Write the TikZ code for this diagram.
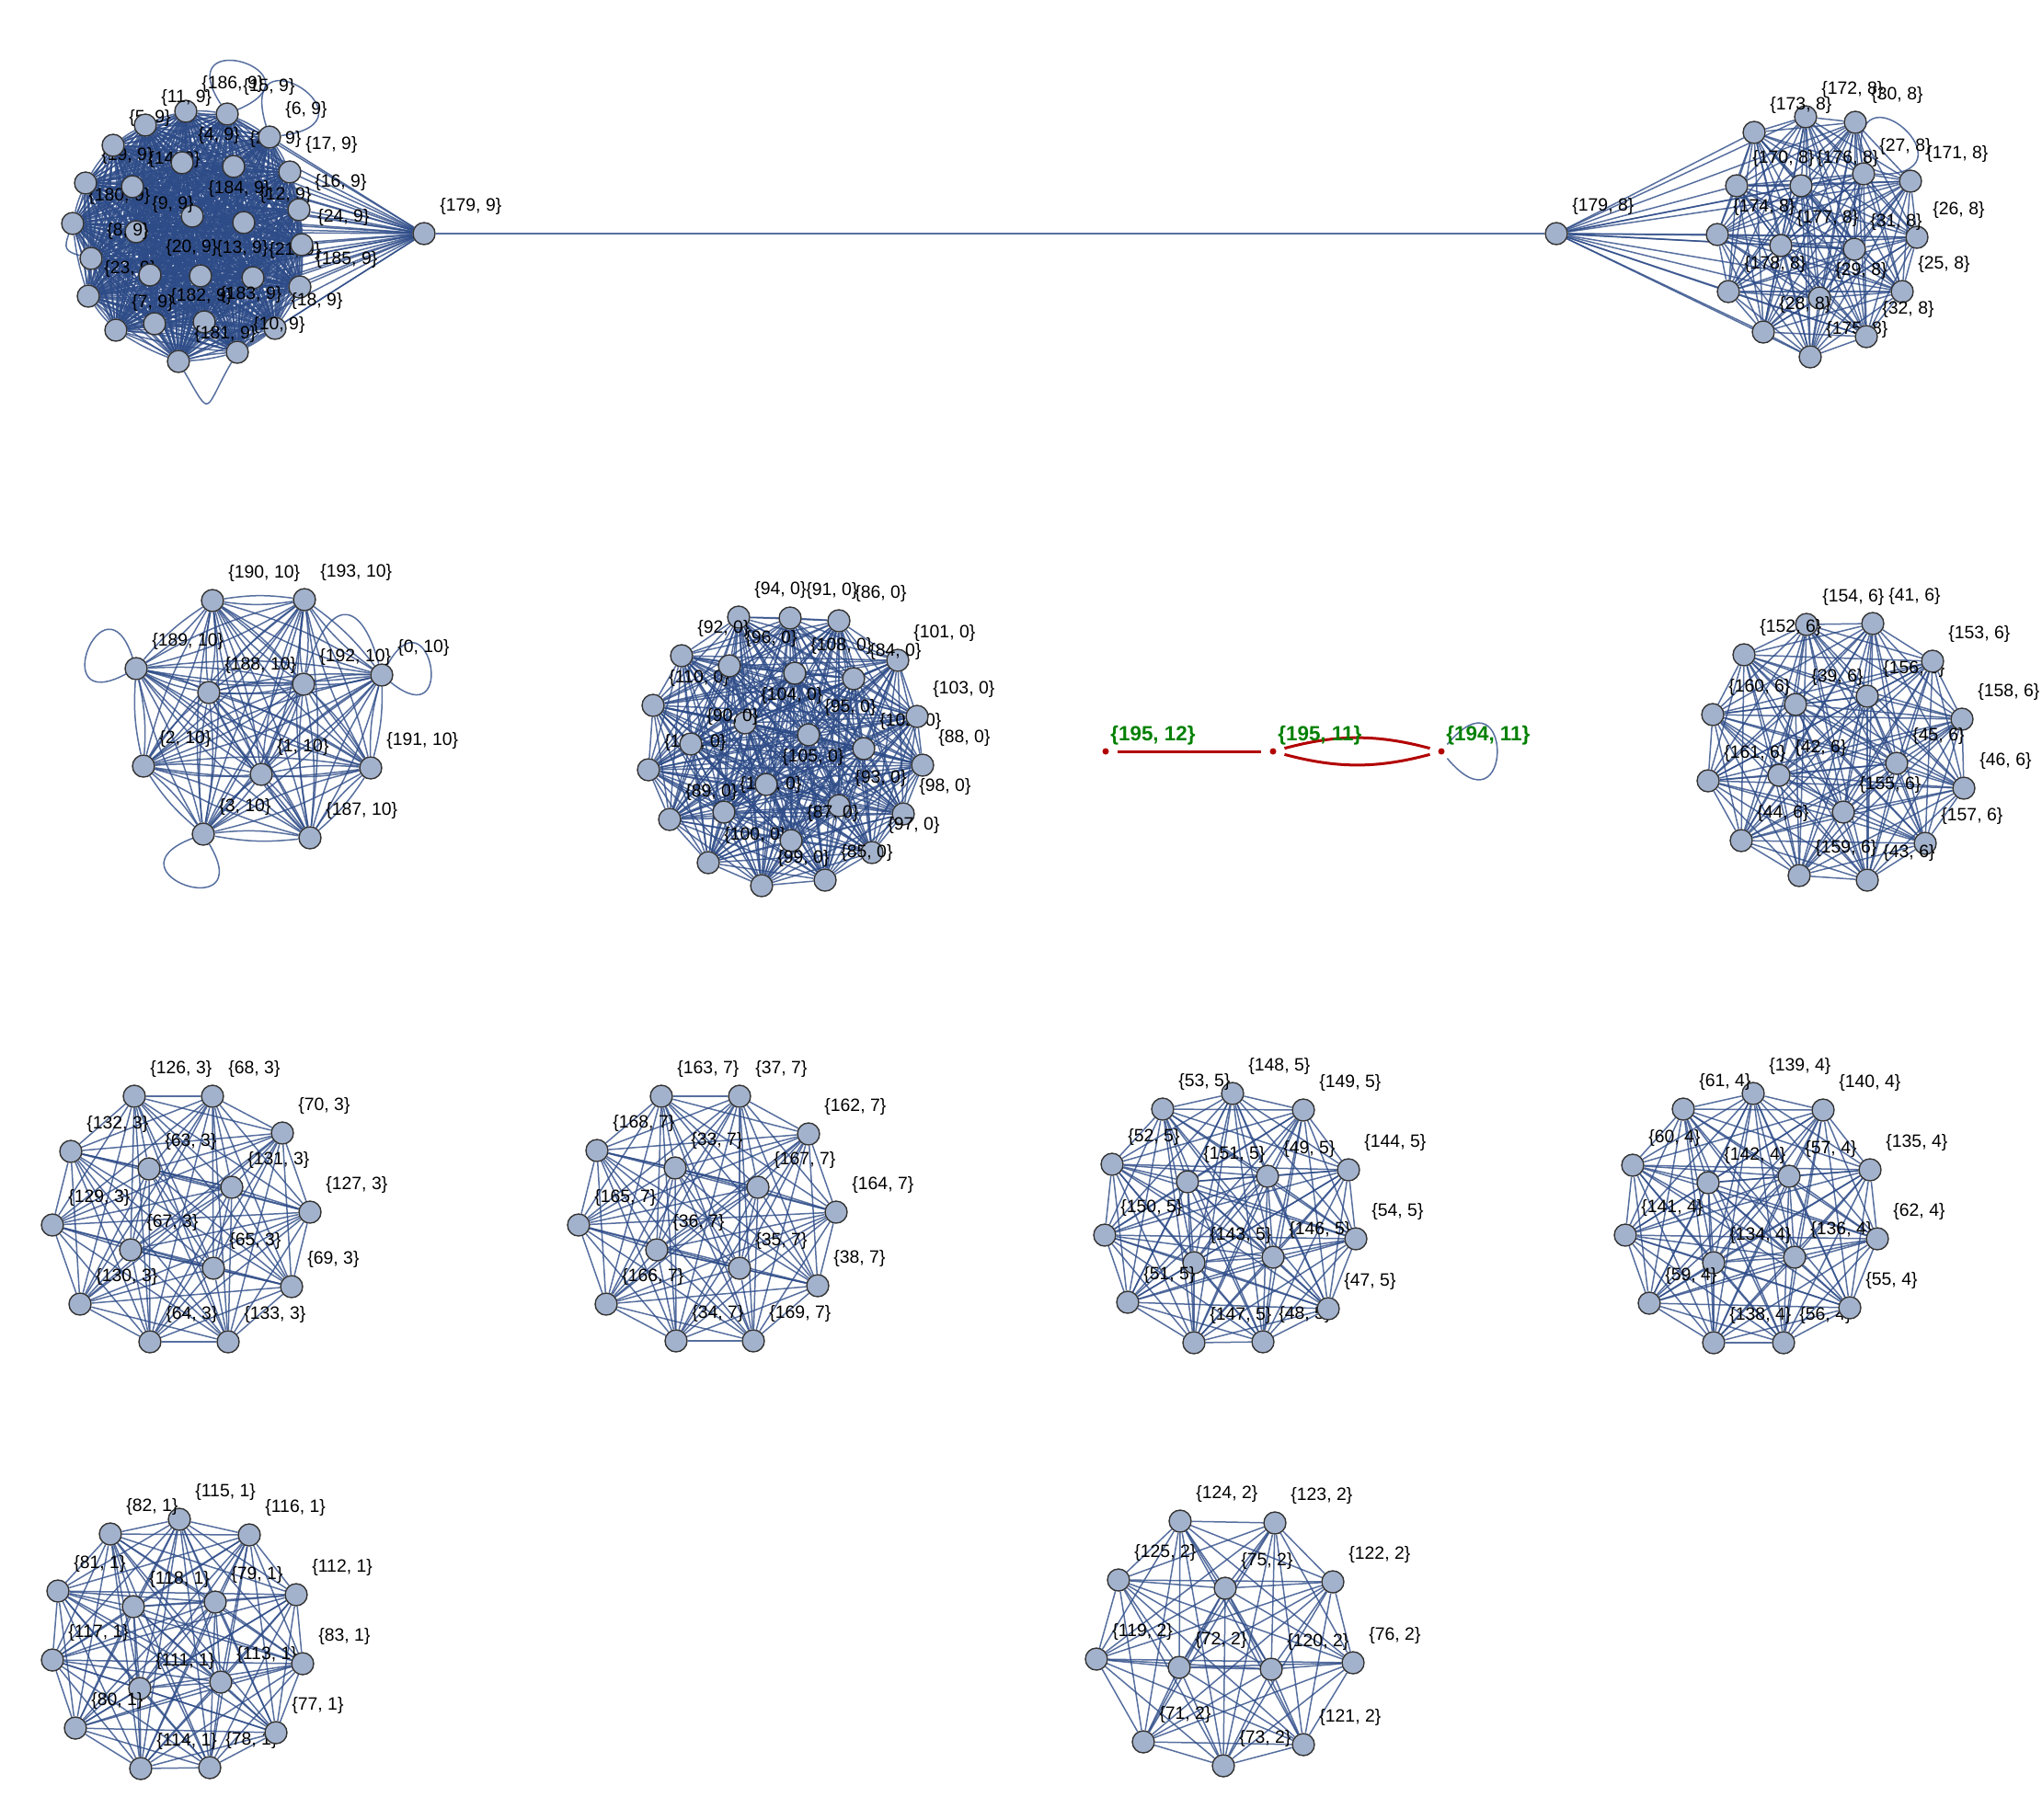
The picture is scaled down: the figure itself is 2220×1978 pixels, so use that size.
\documentclass[tikz,border=0pt]{standalone}
\usepackage{fontspec}
\setmainfont{Liberation Sans}
\definecolor{vfill}{RGB}{163,178,204}
\definecolor{vline}{RGB}{51,51,51}
\definecolor{ecol}{RGB}{45,75,135}
\definecolor{redc}{RGB}{178,0,0}
\definecolor{greenc}{RGB}{0,128,0}
\pgfdeclarelayer{bg}
\pgfsetlayers{bg,main}
\tikzset{
  vert/.style={circle, draw=vline, fill=vfill, line width=0.7pt, minimum size=12pt, inner sep=0pt},
  lbl/.style={anchor=base west, inner sep=0pt, font=\fontsize{9.7}{11}\selectfont},
  glbl/.style={anchor=base west, inner sep=0pt, text=greenc, font=\bfseries\fontsize{11.2}{13}\selectfont},
  lnk/.style={draw=ecol, line width=0.75pt, draw opacity=0.8},
  rdot/.style={circle, fill=redc, inner sep=0pt, minimum size=3.5pt},
  redl/.style={draw=redc, line width=1.5pt, shorten <=4.5pt, shorten >=4.5pt}
}
% data: number/cluster/x/y/under-flag
\def\Cnine{186/9/202/121/0, 15/9/247/124/0, 11/9/158/136/0, 6/9/293/149/0, 5/9/123/158/1, 4/9/198/177/0, 22/9/254/181/1, 17/9/315/187/0, 19/9/93/199/1, 14/9/144/203/1, 16/9/325/228/0, 184/9/209/235/0, 180/9/79/243/1, 12/9/265/242/1, 9/9/148/252/0, 24/9/328/266/0, 8/9/99/281/0, 20/9/163/299/0, 13/9/218/300/0, 21/9/275/302/1, 185/9/326/312/0, 23/9/96/322/1, 182/9/168/352/0, 183/9/222/350/0, 18/9/299/357/0, 7/9/126/359/0, 10/9/258/383/0, 181/9/194/393/0}
\def\Ceight{173/8/1907/144/0, 172/8/1963/127/0, 30/8/2017/133/0, 27/8/2026/189/0, 171/8/2077/197/0, 170/8/1888/202/0, 176/8/1958/202/0, 174/8/1867/255/0, 177/8/1936/267/0, 31/8/2016/271/0, 26/8/2084/258/0, 178/8/1879/317/0, 29/8/1978/324/0, 25/8/2068/317/0, 28/8/1917/361/0, 32/8/2029/366/0, 175/8/1968/388/1}
\def\Cten{190/10/231/653/0, 193/10/331/652/0, 189/10/148/727/0, 188/10/227/753/0, 192/10/330/744/0, 0/10/415/734/0, 2/10/156/833/0, 1/10/284/842/0, 191/10/403/835/0, 3/10/221/907/0, 187/10/337/911/0}
\def\Czero{94/0/803/671/0, 91/0/859/672/0, 86/0/912/675/0, 92/0/741/713/0, 96/0/793/724/0, 108/0/864/732/0, 84/0/928/738/0, 101/0/976/718/0, 110/0/710/767/1, 104/0/810/786/0, 95/0/879/799/0, 103/0/997/779/0, 90/0/751/809/0, 102/0/939/814/1, 88/0/1003/832/0, 109/0/705/837/1, 105/0/833/853/0, 106/0/787/883/1, 93/0/912/876/0, 89/0/728/891/0, 98/0/982/885/0, 87/0/860/914/0, 97/0/948/927/0, 100/0/770/938/1, 99/0/828/963/0, 85/0/897/957/0}
\def\Csix{154/6/1964/679/0, 41/6/2036/678/0, 153/6/2101/719/0, 152/6/1896/712/0, 160/6/1862/777/0, 39/6/1952/766/0, 156/6/2030/757/1, 158/6/2133/782/0, 161/6/1857/849/0, 42/6/1934/843/0, 45/6/2062/830/0, 46/6/2135/857/0, 44/6/1893/914/0, 155/6/2004/883/0, 157/6/2093/917/0, 159/6/1956/952/0, 43/6/2030/957/0}
\def\Cthree{126/3/146/1192/0, 68/3/231/1192/0, 70/3/307/1232/0, 132/3/77/1252/0, 63/3/162/1271/0, 131/3/252/1291/0, 127/3/337/1318/0, 129/3/57/1332/0, 67/3/142/1359/0, 65/3/232/1379/0, 69/3/317/1399/0, 130/3/87/1418/0, 64/3/163/1459/0, 133/3/248/1459/0}
\def\Cseven{163/7/719/1192/0, 37/7/804/1192/0, 162/7/879/1233/0, 168/7/649/1251/0, 33/7/734/1270/0, 167/7/824/1291/0, 164/7/909/1318/0, 165/7/629/1332/0, 36/7/714/1359/0, 35/7/804/1379/0, 38/7/889/1398/0, 166/7/659/1418/0, 34/7/735/1458/0, 169/7/819/1458/0}
\def\Cfive{148/5/1340/1189/0, 53/5/1264/1206/0, 149/5/1417/1207/0, 52/5/1209/1266/0, 151/5/1291/1285/0, 49/5/1378/1279/0, 144/5/1466/1272/0, 150/5/1201/1343/0, 143/5/1298/1373/0, 146/5/1384/1367/1, 54/5/1474/1347/0, 51/5/1226/1416/0, 47/5/1444/1423/0, 147/5/1298/1460/0, 48/5/1373/1459/1}
\def\Cfour{139/4/1906/1189/0, 61/4/1830/1206/0, 140/4/1982/1207/0, 60/4/1775/1267/0, 142/4/1857/1286/0, 57/4/1945/1279/0, 135/4/2033/1272/0, 141/4/1767/1343/0, 134/4/1863/1373/0, 136/4/1951/1367/1, 62/4/2041/1347/0, 59/4/1793/1417/0, 55/4/2011/1422/0, 138/4/1863/1460/0, 56/4/1939/1460/1}
\def\Cone{115/1/195/1652/0, 82/1/120/1668/0, 116/1/271/1669/0, 81/1/63/1730/0, 118/1/145/1747/0, 79/1/234/1742/0, 112/1/322/1734/0, 117/1/57/1805/0, 111/1/152/1836/0, 113/1/240/1829/1, 83/1/329/1809/0, 80/1/82/1879/0, 77/1/300/1884/0, 114/1/153/1923/0, 78/1/228/1922/1}
\def\Ctwo{124/2/1283/1654/0, 123/2/1386/1656/0, 125/2/1216/1718/0, 122/2/1449/1720/0, 75/2/1332/1727/0, 119/2/1192/1804/0, 72/2/1282/1813/0, 120/2/1382/1815/0, 76/2/1471/1808/0, 71/2/1243/1894/0, 121/2/1417/1897/0, 73/2/1330/1920/0}
\newcommand\labs[2]{\foreach \a/\b/\x/\y/\u in #1 {\ifnum\u=#2\relax\node[lbl] (l\a x\b) at ({\x+17},{-\y+25}) {\{\a, \b\}};\fi}}
\newcommand\verts[1]{\foreach \a/\b/\x/\y/\u in #1 {\node[vert] (n\a x\b) at (\x,-\y) {};}}
\newcommand\mkclique[1]{\foreach \a/\b/\x/\y/\u [count=\i] in #1 {\foreach \pa/\pb/\px/\py/\pu [count=\j] in #1 {\ifnum\j>\i\relax\draw[lnk] (n\a x\b) -- (n\pa x\pb);\fi}}}
\newcommand\mkcliqueb[2]{\foreach \a/\b/\x/\y/\u [count=\i] in #1 {\foreach \pa/\pb/\px/\py/\pu [count=\j] in #1 {\ifnum\j>\i\relax\draw[lnk] (n\a x\b) to[bend left=#2] (n\pa x\pb) (n\a x\b) to[bend right=#2] (n\pa x\pb);\fi}}}
\newcommand\mkloop[4]{\draw[lnk] (#1.#2) .. controls +(#2:#4) and +(#3:#4) .. (#1.#3);}
\begin{document}
\begin{tikzpicture}[x=0.5pt,y=0.5pt]
\useasboundingbox (0,0) rectangle (2220,-1978);
% labels lying under vertices
\labs{\Cnine}{1}\labs{\Ceight}{1}\labs{\Cten}{1}\labs{\Czero}{1}\labs{\Csix}{1}
\labs{\Cthree}{1}\labs{\Cseven}{1}\labs{\Cfive}{1}\labs{\Cfour}{1}\labs{\Cone}{1}\labs{\Ctwo}{1}
% vertices
\verts{\Cnine}\verts{\Ceight}\verts{\Cten}\verts{\Czero}\verts{\Csix}
\verts{\Cthree}\verts{\Cseven}\verts{\Cfive}\verts{\Cfour}\verts{\Cone}\verts{\Ctwo}
\node[vert] (n179x9) at (461,-254) {};
\node[vert] (n179x8) at (1692,-254) {};
% labels over vertices
\labs{\Cnine}{0}\labs{\Ceight}{0}\labs{\Cten}{0}\labs{\Czero}{0}\labs{\Csix}{0}
\labs{\Cthree}{0}\labs{\Cseven}{0}\labs{\Cfive}{0}\labs{\Cfour}{0}\labs{\Cone}{0}\labs{\Ctwo}{0}
\node[lbl] (l179x9) at (478,-229) {\{179, 9\}};
\node[lbl] (l179x8) at (1709,-229) {\{179, 8\}};
% red / green component
\node[rdot] (d195x12) at (1202,-817) {};
\node[rdot] (d195x11) at (1384,-817) {};
\node[rdot] (d194x11) at (1567,-817) {};
\node[glbl] (g195x12) at (1207,-805) {\{195, 12\}};
\node[glbl] (g195x11) at (1389,-805) {\{195, 11\}};
\node[glbl] (g194x11) at (1572,-805) {\{194, 11\}};
\begin{pgfonlayer}{bg}
\mkcliqueb{\Cnine}{5}
\mkclique{\Ceight}
\mkcliqueb{\Cten}{8}
\mkclique{\Czero}
\mkclique{\Csix}
\mkclique{\Cthree}
\mkclique{\Cseven}
\mkclique{\Cfive}
\mkclique{\Cfour}
\mkclique{\Cone}
\mkclique{\Ctwo}
\foreach \a/\b/\x/\y/\u in \Cnine {\draw[lnk] (n179x9) -- (n\a x\b);}
\foreach \a/\b/\x/\y/\u in \Ceight {\draw[lnk] (n179x8) -- (n\a x\b);}
\draw[lnk] (n179x9) -- (n179x8);
% loops and curved multi-edges
\mkloop{n15x9}{123}{23}{105}
\mkloop{n6x9}{107}{7}{115}
\mkloop{n27x8}{98}{-2}{120}
\mkloop{n189x10}{208}{108}{100}
\mkloop{n0x10}{61}{-39}{95}
\mkloop{n3x10}{301}{201}{105}
\draw[lnk] (n192x10) to[out=75,in=105,looseness=2.6] (n0x10);
\draw[lnk] (n180x9) to[out=250,in=165,looseness=1.6] (n8x9);
\draw[lnk] (n181x9) to[out=-60,in=-120,looseness=3] (n10x9);
\draw[lnk, shorten <=3pt, shorten >=3pt] (d194x11.50) .. controls +(50:119) and +(-50:119) .. (d194x11.-50);
\draw[redl] (d195x12) -- (d195x11);
\draw[redl] (d195x11) to[bend left=15] (d194x11);
\draw[redl] (d195x11) to[bend right=15] (d194x11);
\end{pgfonlayer}
\end{tikzpicture}
\end{document}
